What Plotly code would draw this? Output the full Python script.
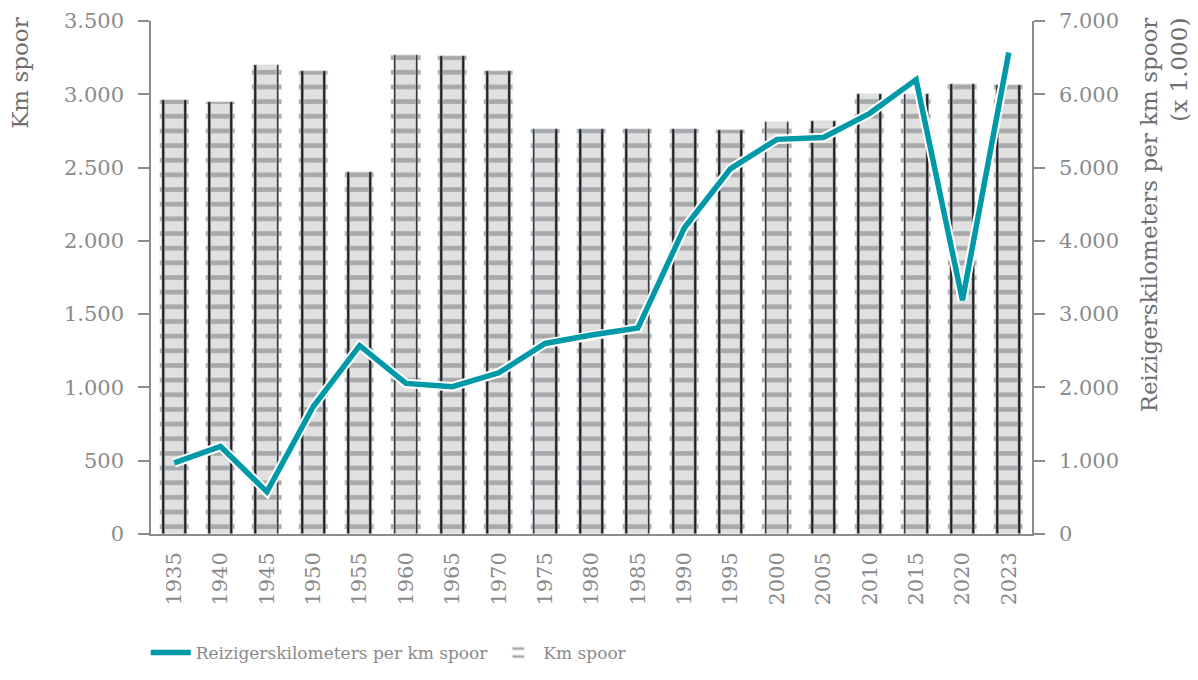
import plotly.graph_objects as go

# Dutch railway network: km of track vs passenger-km per km of track
YEARS = ["1935", "1940", "1945", "1950", "1955", "1960", "1965", "1970", "1975", "1980",
         "1985", "1990", "1995", "2000", "2005", "2010", "2015", "2020", "2023"]
KM_SPOOR = [2960, 2950, 3200, 3160, 2470, 3270, 3260, 3160, 2760, 2760,
            2760, 2760, 2755, 2810, 2815, 3005, 3005, 3070, 3060]
REIZIGERSKM_PER_KM = [970, 1195, 575, 1740, 2570, 2055, 2010, 2200, 2600, 2715,
                      2810, 4175, 4985, 5385, 5410, 5740, 6200, 3190, 6570]

TEAL = "#0099A8"
AXIS_GREY = "#8c8c8c"
TEXT_GREY = "#8a8a8a"
TITLE_GREY = "#6e6e6e"
FILL = "#e0e0e0"
TIE = "#a6a8aa"
RAIL = "#222222"
FONT = "DejaVu Serif"

fig = go.Figure()

# fill / sleepers / rails of the "track" bars
fig.add_trace(go.Bar(
    x=YEARS, y=KM_SPOOR, width=0.48, marker_color=FILL,
    showlegend=False, hoverinfo="skip",
))
fig.add_trace(go.Bar(
    x=YEARS, y=KM_SPOOR, width=0.63, name="Km spoor",
    marker=dict(color="rgba(0,0,0,0)",
                pattern=dict(shape="-", size=14.657, solidity=0.32,
                             fgcolor=TIE, bgcolor="rgba(0,0,0,0)", fillmode="replace")),
    legendrank=2,
))
for off in (-0.268, 0.208):
    fig.add_trace(go.Bar(
        x=YEARS, y=KM_SPOOR, width=0.06, offset=off, marker_color=RAIL,
        showlegend=False, hoverinfo="skip",
    ))

# line with white halo on secondary axis
fig.add_trace(go.Scatter(
    x=YEARS, y=REIZIGERSKM_PER_KM, yaxis="y2", mode="lines",
    line=dict(color="white", width=9.5), showlegend=False, hoverinfo="skip",
))
fig.add_trace(go.Scatter(
    x=YEARS, y=REIZIGERSKM_PER_KM, yaxis="y2", mode="lines",
    line=dict(color=TEAL, width=5.5), name="Reizigerskilometers per km spoor",
    legendrank=1,
))

axis_common = dict(
    showgrid=False, zeroline=False, showline=True, linecolor=AXIS_GREY, linewidth=1.5,
    ticks="outside", ticklen=11, tickcolor=AXIS_GREY, tickwidth=1.5,
    tickfont=dict(family=FONT, size=21, color=TEXT_GREY), tickformat=",d",
)

# page body has an 8px margin, so the margins are shifted to compensate
fig.update_layout(
    width=1198, height=680,
    barmode="overlay", bargap=0,
    separators=",.",
    plot_bgcolor="white", paper_bgcolor="white",
    margin=dict(l=143, r=174, t=13, b=154, autoexpand=False),
    font=dict(family=FONT, color=TEXT_GREY),
    xaxis=dict(type="category", showgrid=False, zeroline=False, showline=True,
               linecolor=AXIS_GREY, linewidth=1.5, ticks="", tickangle=-90,
               tickfont=dict(family=FONT, size=21, color=TEXT_GREY),
               ticklabelstandoff=8),
    yaxis=dict(range=[0, 3500], dtick=500, ticklabelstandoff=10, **axis_common),
    yaxis2=dict(range=[0, 7000], dtick=1000, overlaying="y", side="right",
                ticklabelstandoff=10, **axis_common),
    legend=dict(orientation="h", x=-0.006, xanchor="left", y=-0.232, yanchor="middle",
                font=dict(family=FONT, size=17, color=TEXT_GREY),
                traceorder="normal", itemwidth=40),
    annotations=[
        dict(text="Km spoor", xref="paper", yref="paper", x=-0.1487, y=1.012,
             xanchor="center", yanchor="top", textangle=-90, showarrow=False,
             font=dict(family=FONT, size=23, color=TITLE_GREY)),
        dict(text="Reizigerskilometers per km spoor<br>(x 1.000)", xref="paper", yref="paper",
             x=1.1498, y=1.012, xanchor="center", yanchor="top", textangle=-90,
             align="right", showarrow=False,
             font=dict(family=FONT, size=23, color=TITLE_GREY)),
    ],
)

fig.write_html("out.html")
